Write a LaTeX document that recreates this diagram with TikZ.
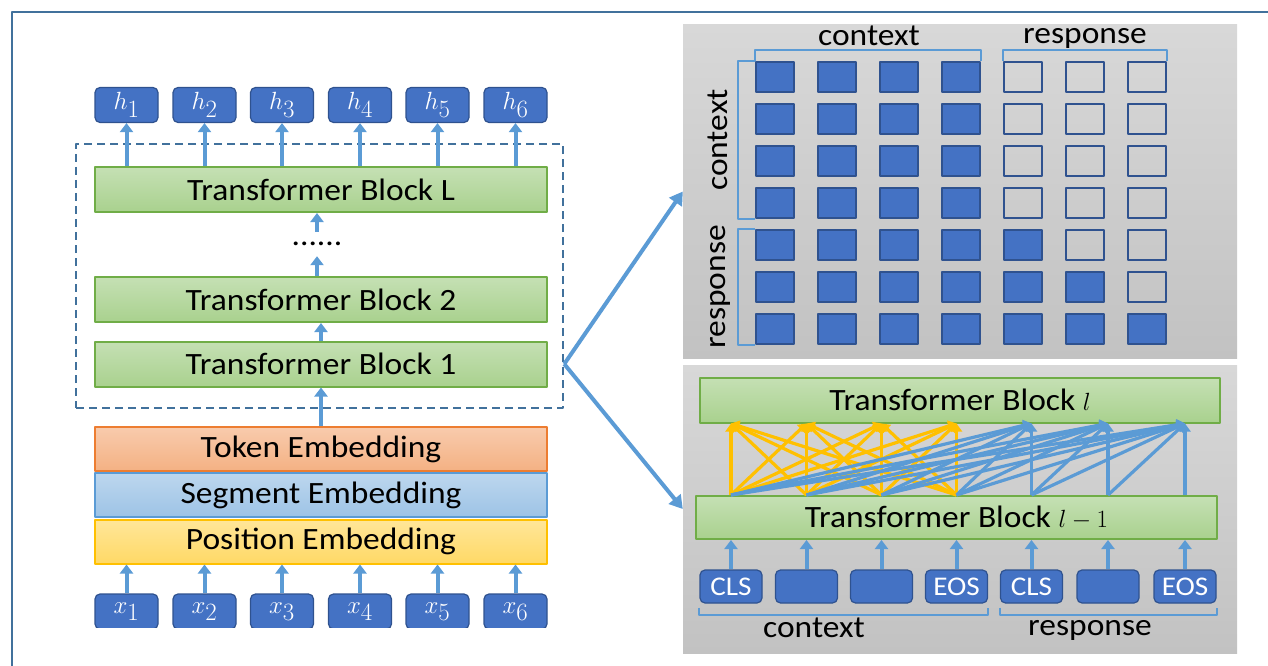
\documentclass[tikz,border=0pt]{standalone}
\usepackage{fontspec}
\setmainfont{Carlito}[FakeStretch=1.08]
\usetikzlibrary{arrows.meta}
\definecolor{frameB}{HTML}{41719C}
\definecolor{tokB}{HTML}{4472C4}
\definecolor{tokD}{HTML}{2F528F}
\definecolor{arrB}{HTML}{5B9BD5}
\definecolor{grnT}{HTML}{C5E0B4}
\definecolor{grnB}{HTML}{A9D18E}
\definecolor{grnD}{HTML}{70AD47}
\definecolor{orgT}{HTML}{F8CBAD}
\definecolor{orgB}{HTML}{F4B183}
\definecolor{orgD}{HTML}{ED7D31}
\definecolor{segT}{HTML}{BDD7EE}
\definecolor{segB}{HTML}{9DC3E6}
\definecolor{posT}{HTML}{FFE699}
\definecolor{posB}{HTML}{FFD966}
\definecolor{posD}{HTML}{FFC000}
\definecolor{panT}{HTML}{D8D8D8}
\definecolor{panB}{HTML}{C2C2C2}
\tikzset{
  block/.style={draw=grnD, line width=2pt, top color=grnT, bottom color=grnB, minimum height=45pt, inner sep=0pt, font=\fontsize{31}{34}\selectfont},
  embed/.style={line width=2pt, minimum width=452pt, minimum height=44pt, inner sep=0pt, font=\fontsize{31}{34}\selectfont},
  vec/.style={draw=tokD, fill=tokB, line width=1.2pt, rounded corners=5pt, minimum width=63pt, minimum height=35pt, inner sep=0pt, text=white, font=\fontsize{33}{36}\selectfont},
  up/.style={draw=arrB, line width=4pt, -{Triangle[length=9pt,width=13pt]}},
  big/.style={draw=arrB, line width=4pt, -{Triangle[length=13pt,width=15pt]}},
  cell/.style={draw=tokD, line width=1.5pt, minimum width=38pt, minimum height=30pt, inner sep=0pt},
  brk/.style={draw=arrB, line width=2pt},
  lab/.style={font=\fontsize{31}{34}\selectfont},
  att/.style={line width=3.2pt, -{Triangle[length=8pt,width=11pt]}},
}
\begin{document}
\begin{tikzpicture}[x=1pt, y=-1pt, line join=round]
\useasboundingbox (0,0) rectangle (1268,666);
\draw[frameB, line width=2.5pt] (12,666)--(12,12)--(1268,12);
% left stack
\foreach \i/\xx in {1/126.5,2/204.5,3/282,4/360,5/437.5,6/515.5}
  \node[vec] (h\i) at (\xx,105) {$h_\i$};
\node[block, minimum width=452pt] (TL) at (321,189.5) {Transformer Block L};
\node[block, minimum width=452pt] (T2) at (321,299.5) {Transformer Block 2};
\node[block, minimum width=452pt] (T1) at (321,364) {Transformer Block 1};
\node[minimum height=24pt, inner sep=0pt, font=\fontsize{31}{34}\selectfont] (dots) at (317,244) {......};
\node[draw=frameB, line width=2.5pt, dash pattern=on 8pt off 5pt, minimum width=487pt, minimum height=264pt] (dbox) at (319.5,276) {};
\node[embed, draw=orgD, top color=orgT, bottom color=orgB] (TE) at (321,449) {Token Embedding};
\node[embed, draw=arrB, top color=segT, bottom color=segB] (SE) at (321,495) {Segment Embedding};
\node[embed, draw=posD, top color=posT, bottom color=posB] (PE) at (321,541.5) {Position Embedding};
\begin{scope}
\clip (80,580) rectangle (560,627);
\foreach \i/\xx in {1/126.5,2/204.5,3/282,4/360,5/437.5,6/515.5}
  \node[vec] (x\i) at (\xx,611.5) {$x_\i$};
\end{scope}
\foreach \i in {1,...,6}{
  \draw[up] (h\i |- TL.north) -- (h\i.south);
  \draw[up] (x\i.north) -- (x\i |- PE.south);
}
\draw[up] (dots.north) -- (TL.south -| dots);
\draw[up] (T2.north -| dots) -- (dots.south);
\draw[up] (T1.north) -- (T2.south);
\draw[up] (TE.north) -- (T1.south);
% right panels
\node[minimum width=554pt, minimum height=333pt, top color=panT, bottom color=panB, inner sep=0pt] (P1) at (960,191.5) {};
\node[minimum width=554pt, minimum height=288pt, top color=panT, bottom color=panB, inner sep=0pt] (P2) at (960,509) {};
\coordinate (V) at (dbox.east |- T1.east);
\draw[big] (V) -- (P1.west);
\draw[big] (V) -- (P2.west);
% mask
\foreach \r in {0,...,6}
  \foreach \c in {0,...,6}{
    \pgfmathtruncatemacro\lim{max(3,\r)}
    \ifnum\c>\lim
      \node[cell] (m-\r-\c) at (775+62*\c, 77+42*\r) {};
    \else
      \node[cell, fill=tokB] (m-\r-\c) at (775+62*\c, 77+42*\r) {};
    \fi
  }
\draw[brk] (m-0-0.north west) -- ++(0,-11) -| (m-0-3.north east);
\draw[brk] (m-0-4.north west) -- ++(0,-11) -| (m-0-6.north east);
\draw[brk] (m-0-0.north west) -- ++(-17,0) |- (m-3-0.south west);
\draw[brk] (m-4-0.north west) -- ++(-17,0) |- (m-6-0.south west);
\node[lab] (ctxA) at (869,36) {context};
\node[lab] (rspA) at (1085,38) {response};
\node[lab, rotate=90] (ctxB) at (718,140) {context};
\node[lab, rotate=90] (rspB) at (720,287) {response};
% attention
\node[block, minimum width=520pt] (Bl) at (960,400) {Transformer Block $l$};
\node[block, minimum width=521pt, minimum height=43pt] (Bl1) at (956.5,517.5) {Transformer Block $l-1$};
\foreach \i/\xx/\t in {1/731/CLS,2/806.5/{},3/881.5/{},4/956.5/EOS,5/1031.5/CLS,6/1108/{},7/1185/EOS}{
  \node[vec, minimum width=62pt, minimum height=33pt, font=\fontsize{27}{30}\selectfont] (t\i) at (\xx,586.5) {\t};
  \draw[up] (t\i.north) -- (t\i |- Bl1.south);
  \coordinate (s\i) at (t\i |- Bl1.north);
  \coordinate (e\i) at (t\i |- Bl.south);
}
\foreach \i in {1,...,4}
  \foreach \j in {1,...,4}
    \draw[att, posD] (s\i) -- (e\j);
\foreach \j in {5,6,7}
  \foreach \i in {1,...,\j}
    \draw[att, arrB] (s\i) -- (e\j);
\draw[brk] (t1.south west) ++(0,4) -- ++(0,7) -| ([yshift=-4pt]t4.south east);
\draw[brk] (t5.south west) ++(0,4) -- ++(0,7) -| ([yshift=-4pt]t7.south east);
\node[lab] (ctxC) at (814,628) {context};
\node[lab] (rspC) at (1090,630) {response};
\end{tikzpicture}
\end{document}
